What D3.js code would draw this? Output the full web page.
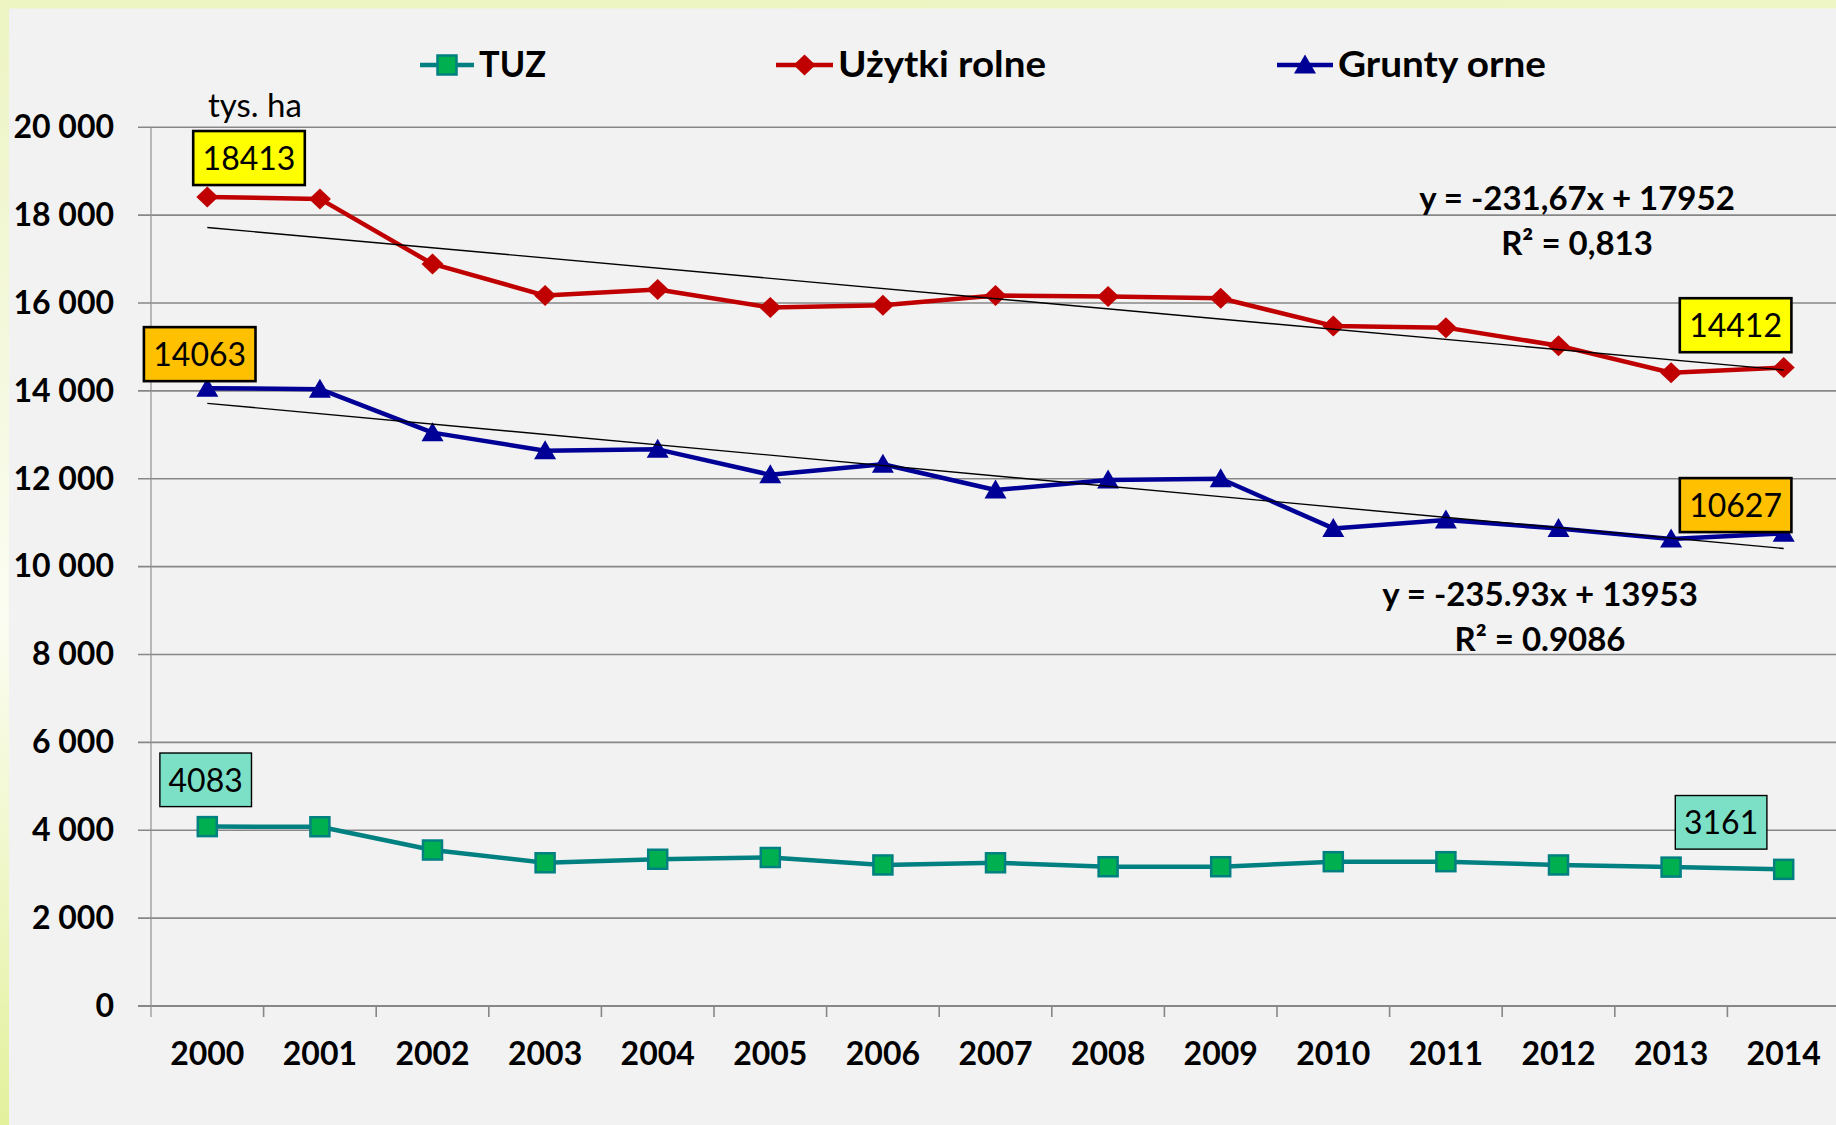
<!DOCTYPE html>
<html>
<head>
<meta charset="utf-8">
<script src="https://cdn.jsdelivr.net/npm/d3@7"></script>
<style>
  html, body { margin: 0; padding: 0; background: #f2f2f2; }
  svg { display: block; font-family: Lato, "Open Sans", "DejaVu Sans", sans-serif; }
</style>
</head>
<body>
<svg id="chart" width="1836" height="1125"></svg>
<script>
// Land use in Poland, thousand hectares
const years = [2000, 2001, 2002, 2003, 2004, 2005, 2006, 2007, 2008, 2009, 2010, 2011, 2012, 2013, 2014];
const uzytkiRolne = [18413, 18370, 16890, 16170, 16310, 15900, 15950, 16170, 16150, 16110, 15480, 15440, 15030, 14412, 14530];
const gruntyOrne = [14063, 14040, 13050, 12640, 12670, 12090, 12330, 11745, 11970, 12000, 10870, 11060, 10870, 10627, 10760];
const tuz = [4083, 4080, 3550, 3260, 3340, 3380, 3210, 3260, 3170, 3170, 3285, 3285, 3210, 3161, 3110];
const seriesNames = ["TUZ", "Użytki rolne", "Grunty orne"];
const yTicks = [0, 2000, 4000, 6000, 8000, 10000, 12000, 14000, 16000, 18000, 20000];
const unitLabel = "tys. ha";

// linear trends: [slope, intercept], x = 1..15
const trendUzytki = [-231.67, 17952];
const trendGrunty = [-235.93, 13953];
const trendUzytkiText = ["y = -231,67x + 17952", "R² = 0,813"];
const trendGruntyText = ["y = -235.93x + 13953", "R² = 0.9086"];

const W = 1836, H = 1125;
const svg = d3.select("#chart");

// ---- background ----
const defs = svg.append("defs");
const gl = defs.append("linearGradient").attr("id", "leftEdge")
  .attr("x1", 0).attr("y1", 0).attr("x2", 0).attr("y2", 1);
gl.append("stop").attr("offset", "0").attr("stop-color", "#edf4c2");
gl.append("stop").attr("offset", "0.3").attr("stop-color", "#f4f8dc");
gl.append("stop").attr("offset", "0.55").attr("stop-color", "#fbfdf2");
gl.append("stop").attr("offset", "0.8").attr("stop-color", "#eef6c4");
gl.append("stop").attr("offset", "1").attr("stop-color", "#e3f09c");
const gt = defs.append("linearGradient").attr("id", "topEdge")
  .attr("x1", 0).attr("y1", 0).attr("x2", 1).attr("y2", 0);
gt.append("stop").attr("offset", "0").attr("stop-color", "#edf5c2");
gt.append("stop").attr("offset", "1").attr("stop-color", "#eef6c6");

svg.append("rect").attr("width", W).attr("height", H).attr("fill", "#f2f2f2");
svg.append("rect").attr("x", 0).attr("y", 0).attr("width", W).attr("height", 8.5).attr("fill", "url(#topEdge)");
svg.append("rect").attr("x", 0).attr("y", 0).attr("width", 9).attr("height", H).attr("fill", "url(#leftEdge)");

// ---- scales ----
const x = d3.scaleBand().domain(years).range([151, 1840]).padding(0);
const y = d3.scaleLinear().domain([0, 20000]).range([1006, 127.3]);
const cx = yr => x(yr) + x.bandwidth() / 2;

// ---- grid ----
svg.append("g").selectAll("line").data(yTicks).join("line")
  .attr("x1", 138).attr("x2", W)
  .attr("y1", d => y(d)).attr("y2", d => y(d))
  .attr("stroke", "#878787")
  .attr("stroke-width", d => d === 0 ? 2.2 : 1.6);

svg.append("line")
  .attr("x1", 151).attr("x2", 151)
  .attr("y1", y(20000)).attr("y2", 1017)
  .attr("stroke", "#909090").attr("stroke-width", 1.2);

const bounds = years.map(yr => x(yr)).concat([x(years[years.length - 1]) + x.bandwidth()]);
svg.append("g").selectAll("line").data(bounds.slice(1)).join("line")
  .attr("x1", d => d).attr("x2", d => d)
  .attr("y1", 1006).attr("y2", 1017)
  .attr("stroke", "#878787").attr("stroke-width", 1.6);

// ---- axes labels ----
const plFmt = d3.formatLocale({ decimal: ",", thousands: "\u2009", grouping: [3], currency: ["", " zł"] }).format(",d");
const yAxis = svg.append("g").attr("transform", "translate(151,0)")
  .call(d3.axisLeft(y).tickValues(yTicks).tickFormat(d => plFmt(d).replace("\u2009", " ")).tickSize(0).tickPadding(37));
yAxis.select(".domain").remove();
yAxis.selectAll("text")
  .attr("font-family", "Lato, sans-serif").attr("font-size", 32).attr("font-weight", "bold").attr("fill", "#000");

const xAxis = svg.append("g").attr("transform", "translate(0,1006)")
  .call(d3.axisBottom(x).tickSize(0).tickPadding(36));
xAxis.select(".domain").remove();
xAxis.selectAll("text")
  .attr("font-family", "Lato, sans-serif").attr("font-size", 32).attr("font-weight", "bold").attr("fill", "#000");

svg.append("text").attr("x", 208).attr("y", 117)
  .attr("font-size", 33).attr("fill", "#000").text(unitLabel);

// ---- series ----
const diamond = "M0,-10.5L11,0L0,10.5L-11,0Z";
const triangle = "M0,-10.5L11,8.5L-11,8.5Z";

const series = [
  { name: seriesNames[0], values: tuz, color: "#008080" },
  { name: seriesNames[1], values: uzytkiRolne, color: "#c00000" },
  { name: seriesNames[2], values: gruntyOrne, color: "#000096" }
];

const line = d3.line().x((d, i) => cx(years[i])).y(d => y(d));

series.forEach(s => {
  svg.append("path").attr("d", line(s.values))
    .attr("fill", "none").attr("stroke", s.color).attr("stroke-width", 4.5)
    .attr("stroke-linejoin", "round");
});

function drawMarker(g, name, px, py) {
  if (name === seriesNames[0]) {
    g.append("rect").attr("x", px - 9.5).attr("y", py - 9.5).attr("width", 19).attr("height", 19)
      .attr("fill", "#00b050").attr("stroke", "#008080").attr("stroke-width", 2.5);
  } else if (name === seriesNames[1]) {
    g.append("path").attr("transform", `translate(${px},${py})`).attr("d", diamond).attr("fill", "#c00000");
  } else {
    g.append("path").attr("transform", `translate(${px},${py})`).attr("d", triangle).attr("fill", "#000096");
  }
}

const markers = svg.append("g");
series.forEach(s => s.values.forEach((v, i) => drawMarker(markers, s.name, cx(years[i]), y(v))));

// ---- trend lines ----
function drawTrend(coef) {
  const xs = [1, years.length];
  svg.append("path")
    .attr("d", d3.line().x(k => cx(years[k - 1])).y(k => y(coef[0] * k + coef[1]))(xs))
    .attr("stroke", "#000").attr("stroke-width", 1.4).attr("fill", "none");
}
drawTrend(trendUzytki);
drawTrend(trendGrunty);

function drawTrendText(lines, cxPos, baseY) {
  lines.forEach((t, i) => {
    svg.append("text").attr("x", cxPos).attr("y", baseY + i * 44.5)
      .attr("text-anchor", "middle").attr("font-size", 33).attr("font-weight", "bold")
      .attr("fill", "#000").text(t);
  });
}
drawTrendText(trendUzytkiText, 1577, 210);
drawTrendText(trendGruntyText, 1540, 606);

// ---- value call-outs ----
const callouts = [
  { values: uzytkiRolne, idx: 0, fill: "#ffff00", border: 2.6, dx: 41.7, dy: -12, w: 111.6, h: 54 },
  { values: gruntyOrne, idx: 0, fill: "#ffc000", border: 2.6, dx: -7.6, dy: -7, w: 111.6, h: 54 },
  { values: tuz, idx: 0, fill: "#7ce0c7", border: 1.4, dx: -1.6, dy: -20, w: 91.6, h: 53.6 },
  { values: uzytkiRolne, idx: 13, fill: "#ffff00", border: 2.6, dx: 64.5, dy: -20.6, w: 111.6, h: 54 },
  { values: gruntyOrne, idx: 13, fill: "#ffc000", border: 2.6, dx: 64.5, dy: -7, w: 111.6, h: 54 },
  { values: tuz, idx: 13, fill: "#7ce0c7", border: 1.4, dx: 50, dy: -18, w: 91.6, h: 53.6 }
];
const cg = svg.append("g");
callouts.forEach(c => {
  const v = c.values[c.idx];
  const px = cx(years[c.idx]) + c.dx;
  const bottom = y(v) + c.dy;
  cg.append("rect").attr("x", px - c.w / 2).attr("y", bottom - c.h)
    .attr("width", c.w).attr("height", c.h)
    .attr("fill", c.fill).attr("stroke", "#000").attr("stroke-width", c.border);
  cg.append("text").attr("x", px).attr("y", bottom - 15)
    .attr("text-anchor", "middle").attr("font-size", 32).attr("fill", "#000").text(v);
});

// ---- legend ----
const legendItems = [
  { name: seriesNames[0], color: "#008080", lx: 420, lw: 54, tx: 479, tw: 67 },
  { name: seriesNames[1], color: "#c00000", lx: 776, lw: 57, tx: 838, tw: 208 },
  { name: seriesNames[2], color: "#000096", lx: 1277, lw: 56, tx: 1338, tw: 208 }
];
const lg = svg.append("g");
legendItems.forEach(it => {
  lg.append("line").attr("x1", it.lx).attr("x2", it.lx + it.lw).attr("y1", 65).attr("y2", 65)
    .attr("stroke", it.color).attr("stroke-width", 4.5);
  drawMarker(lg, it.name, it.lx + it.lw / 2, 65);
  lg.append("text").attr("x", it.tx).attr("y", 76.5)
    .attr("font-size", 36).attr("font-weight", "bold").attr("fill", "#000")
    .attr("textLength", it.tw).attr("lengthAdjust", "spacingAndGlyphs").text(it.name);
});
</script>
</body>
</html>
